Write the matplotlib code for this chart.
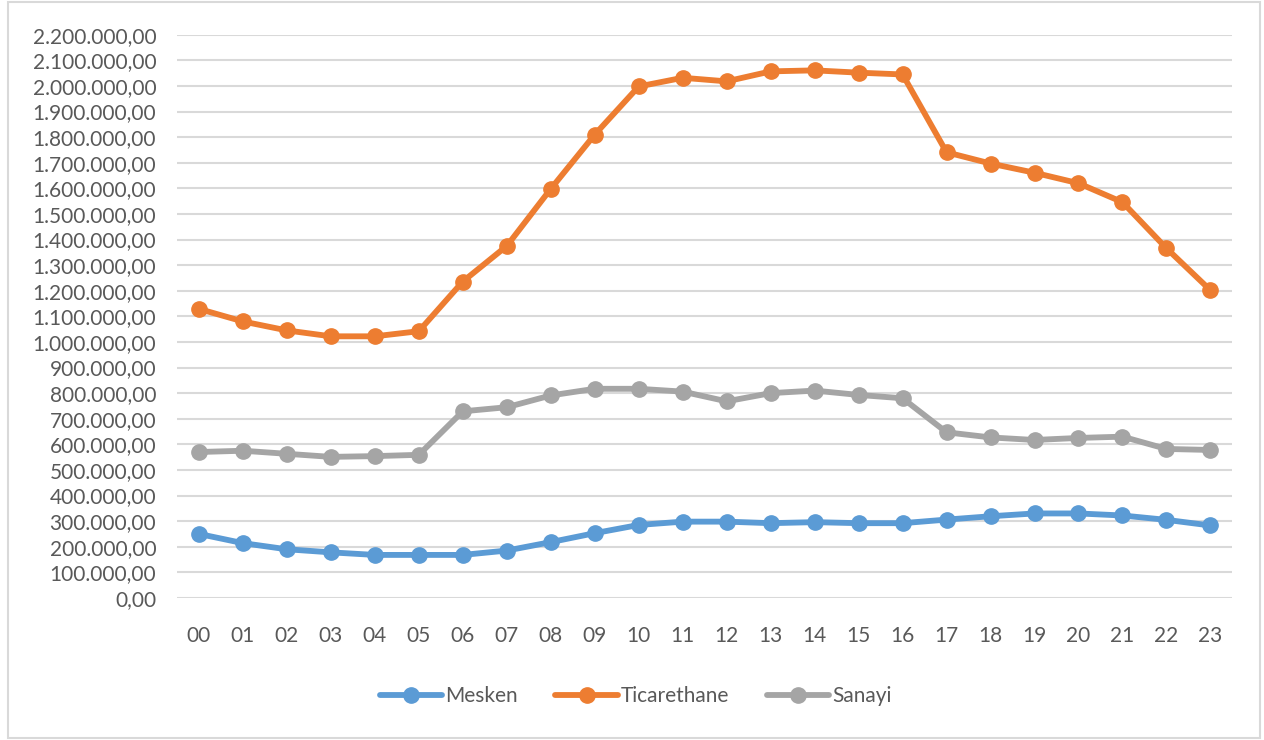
import matplotlib
matplotlib.use("Agg")
import matplotlib.pyplot as plt
from matplotlib.patches import Rectangle
from matplotlib.ticker import FuncFormatter, MultipleLocator

plt.rcParams['font.family'] = ['Lato', 'DejaVu Sans']

hours = ['%02d' % h for h in range(24)]

mesken = [250000, 214000, 190000, 178000, 168000, 168000, 168000, 185000,
          218000, 253000, 285000, 298000, 298000, 292000, 296000, 292000,
          292000, 306000, 319000, 330000, 330000, 322000, 305000, 283000]

ticarethane = [1129000, 1080000, 1045000, 1022000, 1022000, 1042000, 1236000,
               1375000, 1598000, 1810000, 1998000, 2032000, 2018000, 2057000,
               2061000, 2052000, 2045000, 1741000, 1697000, 1661000, 1620000,
               1546000, 1366000, 1202000]

sanayi = [570000, 575000, 563000, 551000, 554000, 559000, 729000, 745000,
          791000, 817000, 817000, 806000, 768000, 800000, 810000, 793000,
          780000, 647000, 627000, 617000, 625000, 630000, 582000, 578000]

series = [('Mesken', mesken, '#5B9BD5'),
          ('Ticarethane', ticarethane, '#ED7D31'),
          ('Sanayi', sanayi, '#A5A5A5')]

fig = plt.figure(figsize=(12.64, 7.40), dpi=100)
ax = fig.add_axes([0.140, 0.192, 0.835, 0.761])

x = list(range(len(hours)))
for name, vals, col in series:
    ax.plot(x, vals, '-o', color=col, lw=4.2, ms=11, label=name,
            solid_capstyle='round')


def tr_fmt(v, pos):
    s = f"{v:,.2f}"
    return s.replace(',', '_').replace('.', ',').replace('_', '.')


ax.set_ylim(0, 2200000)
ax.set_xlim(-0.5, 23.5)
ax.yaxis.set_major_locator(MultipleLocator(100000))
ax.yaxis.set_major_formatter(FuncFormatter(tr_fmt))
ax.set_xticks(x)
ax.set_xticklabels(hours)
ax.grid(axis='y', color='#D9D9D9', lw=1.5)
ax.set_axisbelow(True)
for sp in ax.spines.values():
    sp.set_visible(False)
ax.tick_params(axis='both', length=0, labelcolor='#595959', labelsize=15)
ax.tick_params(axis='x', pad=20)
ax.tick_params(axis='y', pad=15)

leg = fig.legend(loc='center', bbox_to_anchor=(0.503, 0.059), ncol=3,
                 frameon=False, fontsize=15, handlelength=3.0,
                 columnspacing=1.8, handletextpad=0.15)
for t in leg.get_texts():
    t.set_color('#595959')

# light frame round the whole chart
fig.patches.append(Rectangle((0.006, 0.003), 0.991, 0.994,
                             transform=fig.transFigure, fill=False,
                             edgecolor='#D9D9D9', lw=1.5))

fig.savefig('out.png', dpi=100)
